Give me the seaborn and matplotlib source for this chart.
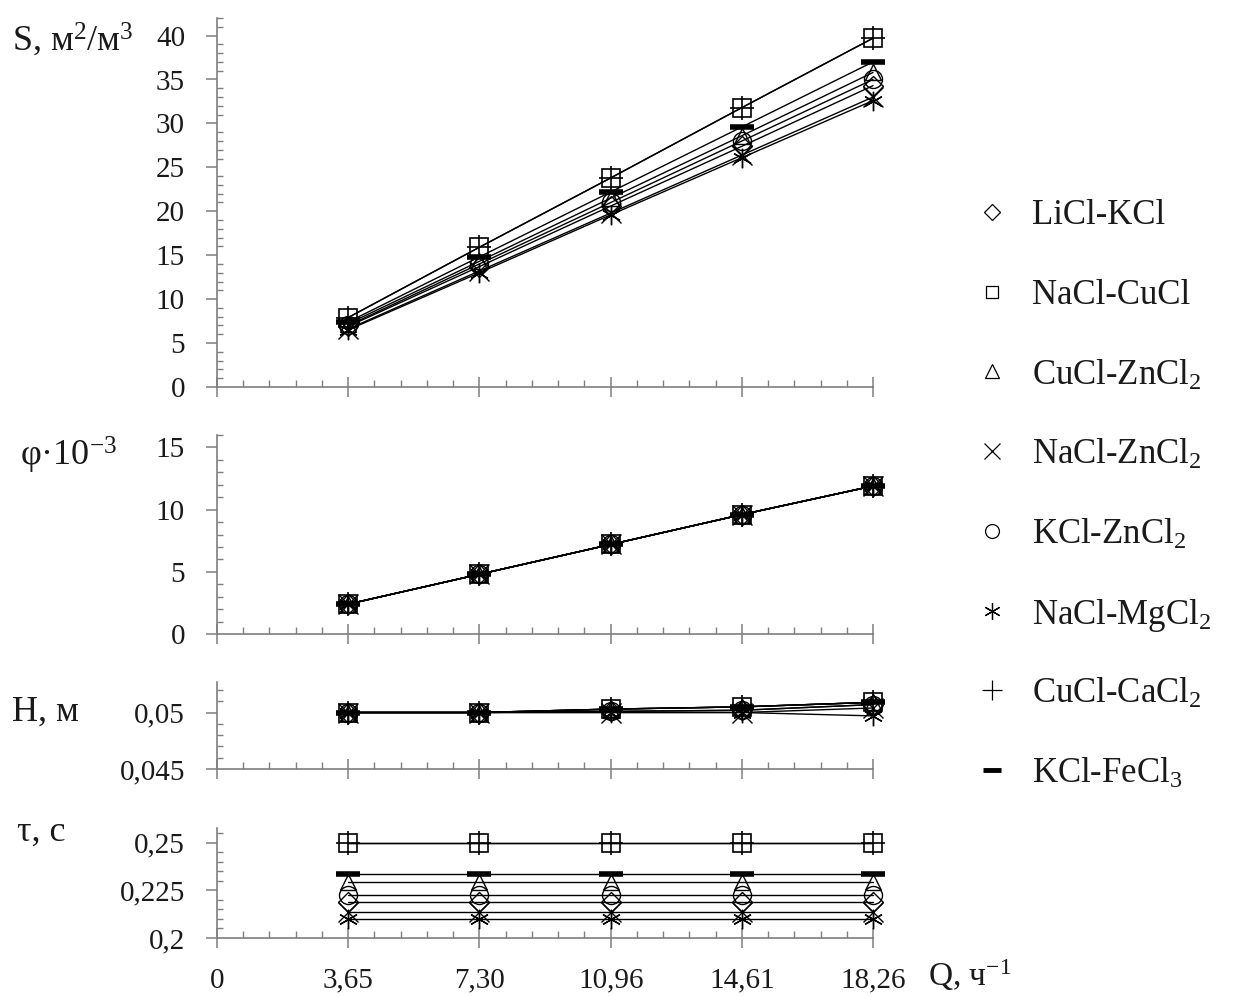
import matplotlib
matplotlib.use("Agg")
import matplotlib.pyplot as plt
from matplotlib.lines import Line2D
from matplotlib.ticker import FixedLocator, FixedFormatter, MultipleLocator
import seaborn as sns

sns.set_theme(style="white")
plt.rcParams["font.family"] = ["Liberation Serif", "DejaVu Serif"]
plt.rcParams["mathtext.fontset"] = "custom"
plt.rcParams["mathtext.rm"] = "Liberation Serif"
plt.rcParams["mathtext.it"] = "Liberation Serif:italic"
plt.rcParams["mathtext.default"] = "regular"

# Flow rate Q, 1/h
q_values = [3.65, 7.30, 10.96, 14.61, 18.26]
q_tick_labels = ["0", "3,65", "7,30", "10,96", "14,61", "18,26"]

systems = ["LiCl-KCl", "NaCl-CuCl", "CuCl-ZnCl$_2$", "NaCl-ZnCl$_2$",
           "KCl-ZnCl$_2$", "NaCl-MgCl$_2$", "CuCl-CaCl$_2$", "KCl-FeCl$_3$"]

# Specific surface S, m2/m3
s_values = [
    [6.9, 13.7, 20.6, 27.4, 34.3],
    [7.9, 15.9, 23.8, 31.8, 39.7],
    [7.2, 14.3, 21.5, 28.6, 35.8],
    [6.6, 13.2, 19.8, 26.4, 33.0],
    [7.0, 14.0, 21.0, 28.0, 35.0],
    [6.5, 13.0, 19.6, 26.1, 32.6],
    [7.9, 15.9, 23.8, 31.8, 39.7],
    [7.4, 14.8, 22.2, 29.6, 37.0],
]

# phi * 10^-3
phi_values = [[2.4, 4.8, 7.2, 9.6, 11.9]] * 8

# Height H, m
h_values = [
    [0.0500, 0.0500, 0.0501, 0.0502, 0.0507],
    [0.0500, 0.0500, 0.0503, 0.0505, 0.0509],
    [0.0500, 0.0500, 0.0503, 0.0505, 0.0509],
    [0.0500, 0.0500, 0.0500, 0.0500, 0.0504],
    [0.0500, 0.0500, 0.0501, 0.0502, 0.0507],
    [0.0500, 0.0500, 0.0500, 0.0500, 0.0497],
    [0.0500, 0.0500, 0.0503, 0.0505, 0.0509],
    [0.0500, 0.0500, 0.0503, 0.0505, 0.0509],
]

# Residence time tau, s
tau_values = [
    [0.2186] * 5,
    [0.2495] * 5,
    [0.2292] * 5,
    [0.2134] * 5,
    [0.2225] * 5,
    [0.2098] * 5,
    [0.2495] * 5,
    [0.2335] * 5,
]

markers = ["D", "s", "^", "x", "o", (6, 2, 0), "+", "_"]
marker_sizes = [10, 13, 12, 14, 13, 14, 17, 17]
edge_widths = [1.0, 1.2, 1.0, 1.0, 1.0, 1.0, 1.2, 4.0]
legend_sizes = [8, 8, 10, 11, 10, 12, 14, 13]

INK = "#1a1a1a"
AXIS = "#7f7f7f"

fig = plt.figure(figsize=(12.47, 9.96), dpi=100)

W, H = 1247, 996
left, right = 217 / W, 873 / W
panels = [
    # (top_px, bottom_px, values, ylim, majors, major labels, minor step)
    (18, 387, s_values, (0, 42), [0, 5, 10, 15, 20, 25, 30, 35, 40],
     ["0", "5", "10", "15", "20", "25", "30", "35", "40"], 1),
    (435, 634, phi_values, (0, 16), [0, 5, 10, 15], ["0", "5", "10", "15"], 1),
    (682, 769, h_values, (0.045, 0.0527), [0.045, 0.05], ["0,045", "0,05"], 0.001),
    (828, 938, tau_values, (0.2, 0.2576), [0.2, 0.225, 0.25],
     ["0,2", "0,225", "0,25"], 0.005),
]

x_major = [0] + q_values
x_minor = [18.26 * k / 25 for k in range(26) if k % 5 != 0]

for idx, (top, bot, vals, ylim, ymaj, ylab, ymin_step) in enumerate(panels):
    ax = fig.add_axes([left, 1 - bot / H, right - left, (bot - top) / H])
    for i in range(len(systems)):
        sns.lineplot(x=q_values, y=vals[i], ax=ax, color="black",
                     linewidth=1.0, marker=markers[i],
                     markersize=marker_sizes[i], markeredgecolor="black",
                     markerfacecolor="none", markeredgewidth=edge_widths[i],
                     legend=False, clip_on=False)
    ax.set_xlim(0, 18.26)
    ax.set_ylim(*ylim)
    ax.set_xlabel("")
    ax.set_ylabel("")
    sns.despine(ax=ax)
    for sp in ("left", "bottom"):
        ax.spines[sp].set_color(AXIS)
        ax.spines[sp].set_linewidth(1.2)
    ax.xaxis.set_major_locator(FixedLocator(x_major))
    ax.xaxis.set_minor_locator(FixedLocator(x_minor))
    ax.yaxis.set_major_locator(FixedLocator(ymaj))
    ax.yaxis.set_major_formatter(FixedFormatter(ylab))
    ax.yaxis.set_minor_locator(MultipleLocator(ymin_step))
    ax.tick_params(axis="y", which="major", direction="out", length=8,
                   width=1.1, color=AXIS, pad=15, labelsize=21,
                   labelcolor=INK, left=True)
    ax.tick_params(axis="y", which="minor", direction="in", length=4,
                   width=1.0, color=AXIS, left=True)
    ax.tick_params(axis="x", which="major", direction="inout", length=15,
                   width=1.1, color=AXIS, pad=14, labelsize=21,
                   labelcolor=INK, bottom=True)
    ax.tick_params(axis="x", which="minor", direction="in", length=5,
                   width=1.0, color=AXIS, bottom=True)
    if idx == len(panels) - 1:
        ax.set_xticklabels(q_tick_labels)
    else:
        ax.set_xticklabels([])
    ax.set_facecolor("none")
    ax.grid(False)

# Axis titles
fig.text(12 / W, 1 - 40 / H, "S, м$^2$/м$^3$", fontsize=26, color=INK,
         ha="left", va="center")
fig.text(20 / W, 1 - 455 / H, "φ·10$^{-3}$", fontsize=26, color=INK,
         ha="left", va="center")
fig.text(12 / W, 1 - 712 / H, "H, м", fontsize=26, color=INK,
         ha="left", va="center")
fig.text(17 / W, 1 - 832 / H, "τ, с", fontsize=26, color=INK,
         ha="left", va="center")
fig.text(928 / W, 1 - 975 / H, "Q, ч$^{-1}$", fontsize=24, color=INK,
         ha="left", va="center")

# Legend
for i, name in enumerate(systems):
    yc = 1 - (212 + 79.7 * i) / H
    fig.add_artist(Line2D([992 / W], [yc], transform=fig.transFigure,
                          marker=markers[i], markersize=legend_sizes[i],
                          markeredgecolor="black", markerfacecolor="none",
                          markeredgewidth=(3.5 if markers[i] == "_" else 0.9),
                          linestyle="none"))
    fig.text(1032 / W, yc, name, fontsize=25, color=INK, ha="left",
             va="center_baseline")

fig.savefig("out.png", dpi=100, facecolor="white")
